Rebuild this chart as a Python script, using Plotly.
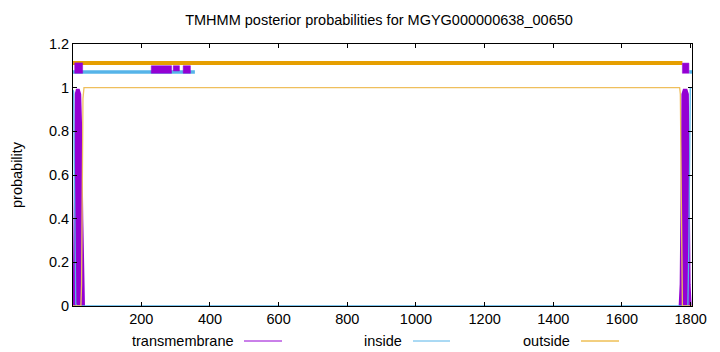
import plotly.graph_objects as go

# ---------------- data ----------------
title_text = "TMHMM posterior probabilities for MGYG000000638_00650"
seq_len = 1804
x_tick_vals = [200, 400, 600, 800, 1000, 1200, 1400, 1600, 1800]
y_tick_vals = [0, 0.2, 0.4, 0.6, 0.8, 1.0, 1.2]
y_tick_text = ["0", "0.2", "0.4", "0.6", "0.8", "1", "1.2"]

# transmembrane posterior (two helices)
tm1_x = [3, 5, 7, 9, 12, 18, 22, 25, 28, 31, 33]
tm1_y = [0, 0.3, 0.8, 0.97, 0.99, 0.99, 0.97, 0.8, 0.4, 0.08, 0]
tm2_x = [1768, 1771, 1774, 1776, 1780, 1788, 1792, 1795, 1797, 1800]
tm2_y = [0, 0.1, 0.6, 0.97, 0.99, 0.99, 0.97, 0.6, 0.1, 0]

# inside posterior
inside_x = [1, 3, 5, 7, 9, 12, 1792, 1795, 1797, 1799, 1804]
inside_y = [0.99, 0.98, 0.6, 0.1, 0.01, 0, 0, 0.3, 0.95, 1.0, 1.0]

# outside posterior
outside_x = [1, 24, 26, 28, 30, 33, 1768, 1770, 1772, 1774, 1776, 1804]
outside_y = [0, 0, 0.1, 0.6, 0.95, 1.0, 1.0, 0.97, 0.5, 0.05, 0, 0]

# predicted topology band at the top
outside_band_x = [1, 1776]
outside_band_y = 1.113
inside_band_segments = [(1, 356), (1796, 1804)]
inside_band_y = 1.072
tm_boxes = [  # (start, end, bottom, top)
    (229, 288, 1.066, 1.1005),
    (293, 311, 1.0765, 1.1005),
    (322, 343, 1.066, 1.1005),
    (6, 29, 1.066, 1.1135),
    (1776, 1795, 1.066, 1.1125),
]

legend_names = ["transmembrane", "inside", "outside"]

# ---------------- style ----------------
PURPLE = "#9400d3"
BLUE = "#56b4e9"
ORANGE = "#e69f00"
FONT = "Liberation Sans, Arial, sans-serif"
FS = 14.5
W, H = 720, 352
L, R, T, B = 73, 28, 44, 46
PW, PH = W - L - R, H - T - B

fig = go.Figure()

# top band: inside line
for (s, e) in inside_band_segments:
    fig.add_trace(go.Scatter(x=[s, e], y=[inside_band_y, inside_band_y], mode="lines",
                             line=dict(color=BLUE, width=3.5), hoverinfo="skip", showlegend=False))
# top band: outside line
fig.add_trace(go.Scatter(x=outside_band_x, y=[outside_band_y] * 2, mode="lines",
                         line=dict(color=ORANGE, width=4), hoverinfo="skip", showlegend=False))
# top band: TM boxes
for (s, e, b, t) in tm_boxes:
    fig.add_trace(go.Scatter(x=[s, e, e, s, s], y=[b, b, t, t, b], mode="lines", fill="toself",
                             fillcolor=PURPLE, line=dict(color=PURPLE, width=0.5),
                             hoverinfo="skip", showlegend=False))

# transmembrane impulses (filled)
for xs, ys in [(tm1_x, tm1_y), (tm2_x, tm2_y)]:
    fig.add_trace(go.Scatter(x=xs, y=ys, mode="lines", fill="tozeroy", fillcolor=PURPLE,
                             line=dict(color=PURPLE, width=2), hoverinfo="skip", showlegend=False))

# inside / outside curves
fig.add_trace(go.Scatter(x=inside_x, y=inside_y, mode="lines",
                         line=dict(color=BLUE, width=1.3), hoverinfo="skip", showlegend=False))
fig.add_trace(go.Scatter(x=outside_x, y=outside_y, mode="lines",
                         line=dict(color="#efbf5c", width=1.3), hoverinfo="skip", showlegend=False))

axis_common = dict(showgrid=False, zeroline=False, showline=True, linecolor="black", linewidth=1,
                   mirror="allticks", ticks="inside", ticklen=4, tickcolor="black",
                   tickfont=dict(family=FONT, size=FS, color="black"))

fig.update_layout(
    width=W, height=H,
    margin=dict(l=L, r=R, t=T, b=B),
    plot_bgcolor="white", paper_bgcolor="white",
    font=dict(family=FONT, size=FS, color="black"),
    showlegend=False,
    title=dict(text=title_text, x=379 / W, xanchor="center", xref="container",
               y=1 - 20 / H, yanchor="middle", yref="container",
               font=dict(family=FONT, size=FS, color="black")),
    xaxis=dict(range=[1, seq_len], tickvals=x_tick_vals, **axis_common),
    yaxis=dict(range=[0, 1.2], tickvals=y_tick_vals, ticktext=y_tick_text, **axis_common),
)


def px_x(p):
    return (p - L) / PW


def px_y(p):
    return (H - B - p) / PH


# y-axis title
fig.add_annotation(text="probability", x=px_x(17), y=px_y(175), xref="paper", yref="paper",
                   showarrow=False, textangle=-90, xanchor="center", yanchor="middle",
                   font=dict(family=FONT, size=FS, color="black"))

# legend (text followed by line sample)
legend_colors = [PURPLE, BLUE, ORANGE]
legend_text_right = [236, 404, 572]
legend_line = [(244, 282), (413, 450), (581, 619)]
ly = 341
for name, col, tr, (a, b) in zip(legend_names, legend_colors, legend_text_right, legend_line):
    fig.add_annotation(text=name, x=px_x(tr), y=px_y(ly), xref="paper", yref="paper",
                       showarrow=False, xanchor="right", yanchor="middle",
                       font=dict(family=FONT, size=FS, color="black"))
    fig.add_shape(type="line", xref="paper", yref="paper", x0=px_x(a), x1=px_x(b),
                  y0=px_y(ly), y1=px_y(ly), line=dict(color=col, width=1))

fig.write_html("out.html")
